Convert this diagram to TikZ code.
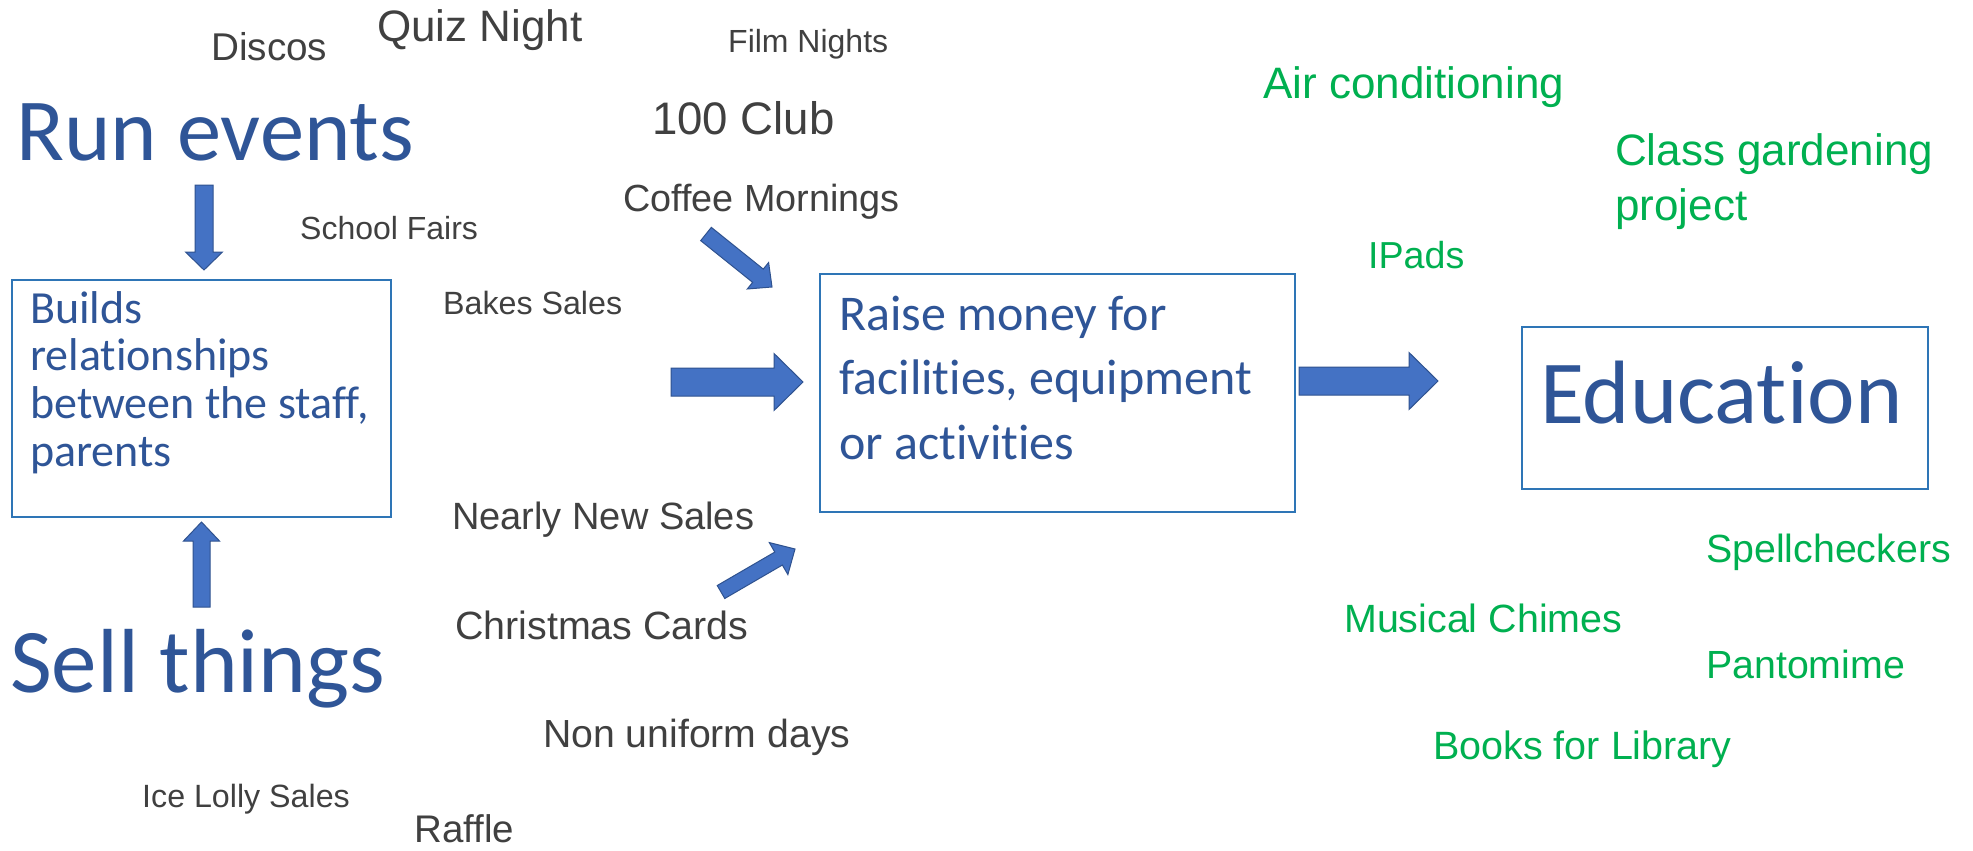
\documentclass[tikz,border=0pt]{standalone}
\usepackage{fontspec}
\setmainfont{Liberation Sans}
\newfontfamily\calibri[RawFeature={-liga,-clig,-calt,-dlig}]{Carlito}
\usetikzlibrary{calc}
\definecolor{txtgray}{HTML}{404040}
\definecolor{txtgreen}{HTML}{00B050}
\definecolor{txtblue}{HTML}{2F5597}
\definecolor{boxblue}{HTML}{2E75B6}
\definecolor{arrfill}{HTML}{4472C4}
\definecolor{arrline}{HTML}{2F528F}
\newcommand\fs[1]{\fontsize{#1}{#1}\selectfont}
\newcommand\blockarrow[5]{%
  \coordinate (bab) at ($(#2)!#5!(#1)$);
  \draw[barrow] ($(#1)!#3!90:(#2)$) -- ($(bab)!#3!-90:(#1)$) -- ($(bab)!#4!-90:(#1)$) -- (#2)
     -- ($(bab)!#4!90:(#1)$) -- ($(bab)!#3!90:(#1)$) -- ($(#1)!#3!-90:(#2)$) -- cycle;
}
\tikzset{
  graytxt/.style={anchor=base west, inner sep=0pt, text=txtgray},
  greentxt/.style={anchor=base west, inner sep=0pt, text=txtgreen},
  bluetxt/.style={anchor=base west, inner sep=0pt, text=txtblue},
  bluebox/.style={draw=boxblue, line width=1.5pt, anchor=north west, inner sep=0pt},
  barrow/.style={fill=arrfill, draw=arrline, line width=1pt, line join=miter},
}
\begin{document}
\begin{tikzpicture}[x=1pt,y=-1pt]
\useasboundingbox[fill=white] (0,0) rectangle (1973,851);

% boxes
\node[bluebox, minimum width=379pt, minimum height=237pt] (builds) at (11,279) {};
\node[bluebox, minimum width=475pt, minimum height=238pt] (raise) at (819,273) {};
\node[bluebox, minimum width=406pt, minimum height=162pt] (edu) at (1521,326) {};

% blue texts
\node[bluetxt, font={\calibri\fs{88.5}}] (run) at (16,160) {Run events};
\node[bluetxt, font={\calibri\fs{91}}] (sell) at (10,692) {Sell things};
\node[bluetxt, font={\calibri\fs{46}}] (buildstxt) at (30,323)
  {\vtop{\baselineskip=47.7pt\lineskiplimit=-1000pt\hbox{Builds}\hbox{relationships}\hbox{between the staff,}\hbox{parents}}};
\node[bluetxt, font={\calibri\fs{50}}] (raisetxt) at (839,330)
  {\vtop{\baselineskip=64.5pt\lineskiplimit=-1000pt\hbox{Raise money for}\hbox{facilit\kern0pt ies, equipment}\hbox{or activit\kern0pt ies}}};
\node[bluetxt, font={\calibri\fs{90}}] (edutxt) at (1540,423) {Educat\kern0pt ion};

% gray texts
\node[graytxt, font=\fs{38.7}] (discos) at (211,60) {Discos};
\node[graytxt, font=\fs{44}] (quiz) at (377,42) {Quiz Night};
\node[graytxt, font=\fs{32}] (fairs) at (300,239) {School Fairs};
\node[graytxt, font=\fs{32}] (film) at (728,53) {Film Nights};
\node[graytxt, font=\fs{45.6}] (club) at (652,134) {100 Club};
\node[graytxt, font=\fs{37.8}] (coffee) at (623,211) {Coffee Mornings};
\node[graytxt, font=\fs{32.2}] (bakes) at (443,314) {Bakes Sales};
\node[graytxt, font=\fs{38}] (nearly) at (452,529) {Nearly New Sales};
\node[graytxt, font=\fs{39.4}] (xmas) at (455,639) {Christmas Cards};
\node[graytxt, font=\fs{39.2}] (nonuni) at (543,747) {Non uniform days};
\node[graytxt, font=\fs{32.2}] (lolly) at (142,807) {Ice Lolly Sales};
\node[graytxt, font=\fs{38.5}] (raffle) at (414,842) {Raffle};

% green texts
\node[greentxt, font=\fs{44}] (air) at (1263,99) {Air conditioning};
\node[greentxt, font=\fs{44}] (garden) at (1615,165)
  {\vtop{\baselineskip=55pt\lineskiplimit=-1000pt\hbox{Class gardening}\hbox{project}}};
\node[greentxt, font=\fs{37.6}] (ipads) at (1368,268) {IPads};
\node[greentxt, font=\fs{39.3}] (spell) at (1706,562) {Spellcheckers};
\node[greentxt, font=\fs{39.4}] (chimes) at (1344,632) {Musical Chimes};
\node[greentxt, font=\fs{39.3}] (panto) at (1706,678) {Pantomime};
\node[greentxt, font=\fs{39.5}] (books) at (1433,759) {Books for Library};

% block arrows
\coordinate (a1s) at (204,185);   \coordinate (a1t) at (204,270);
\coordinate (a2s) at (201.5,607); \coordinate (a2t) at (201.5,522);
\coordinate (a3s) at (706,234);   \coordinate (a3t) at (772,287);
\coordinate (a4s) at (671,382);   \coordinate (a4t) at (803,382);
\coordinate (a5s) at (1299,381);  \coordinate (a5t) at (1438,381);
\coordinate (a6s) at (721,592);   \coordinate (a6t) at (795,549);
\blockarrow{a1s}{a1t}{9pt}{18.5pt}{18pt}
\blockarrow{a2s}{a2t}{8.5pt}{18pt}{19pt}
\blockarrow{a3s}{a3t}{8.5pt}{17pt}{18pt}
\blockarrow{a4s}{a4t}{14pt}{28.5pt}{29pt}
\blockarrow{a5s}{a5t}{14pt}{28.5pt}{29pt}
\blockarrow{a6s}{a6t}{7.5pt}{18.5pt}{19pt}
\end{tikzpicture}
\end{document}
